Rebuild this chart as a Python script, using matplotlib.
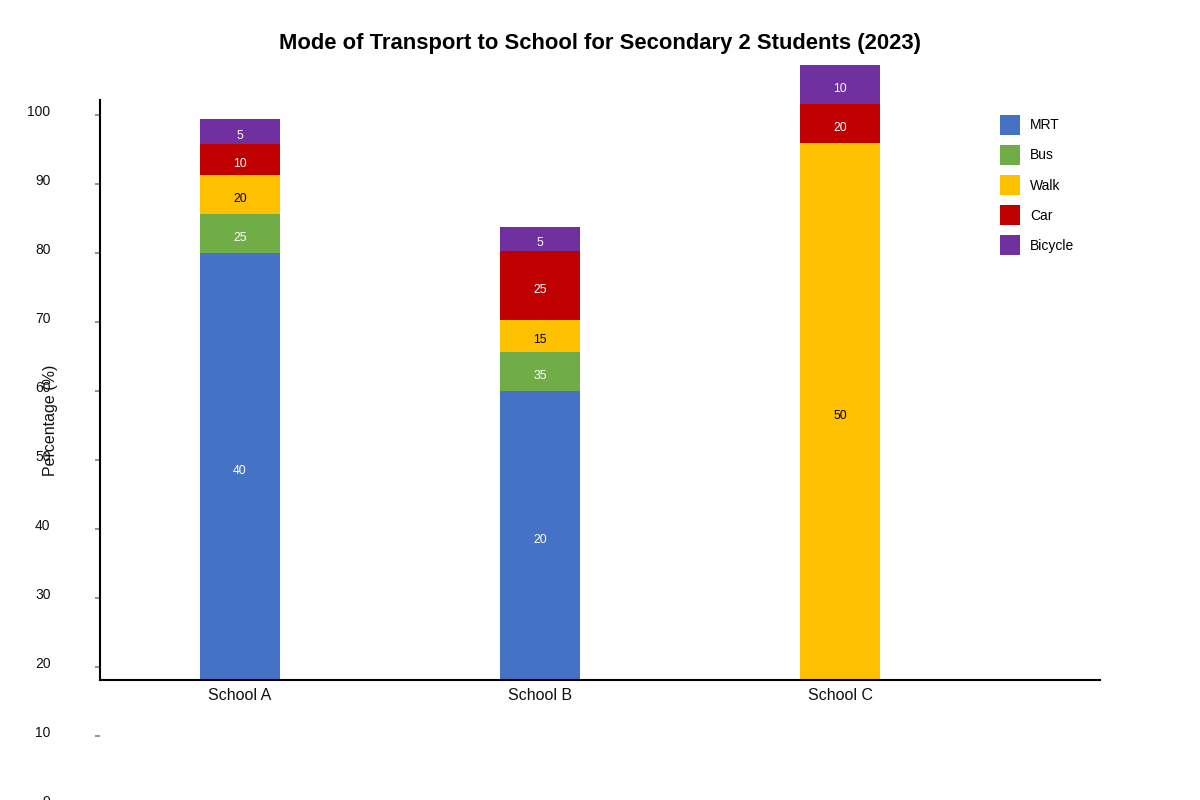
import matplotlib.pyplot as plt
from matplotlib.transforms import ScaledTranslation

plt.rcParams['font.family'] = ['Liberation Sans', 'DejaVu Sans']

schools = ['School A', 'School B', 'School C']
modes = ['MRT', 'Bus', 'Walk', 'Car', 'Bicycle']
colors = ['#4472C4', '#70AD47', '#FFC000', '#C00000', '#7030A0']
text_colors = ['white', 'white', 'black', 'white', 'white']

# percentages printed on the segments
mrt = [40, 20, 0]
bus = [25, 35, 0]
walk = [20, 15, 50]
car = [10, 25, 20]
bicycle = [5, 5, 10]

# segment heights as they are drawn in the original, read in units of its y axis
# (the original does not stack the segments in proportion to the percentages)
base = 18.07
mrt_h = [61.9, 41.9, 0]
bus_h = [5.65, 5.65, 0]
walk_h = [5.6, 4.65, 77.85]
car_h = [4.6, 10.0, 5.65]
bicycle_h = [3.5, 3.5, 5.65]

values = [mrt, bus, walk, car, bicycle]
heights = [mrt_h, bus_h, walk_h, car_h, bicycle_h]

fig = plt.figure(figsize=(12, 8), dpi=100)
ax = fig.add_axes([0, -20 / 800, 1, 820 / 800])

# pixel layout of the original
px_unit = 6.9
zero_px = 804.7
ax.set_xlim(-240 / 300, 960 / 300)
ax.set_ylim((zero_px - 820) / px_unit, zero_px / px_unit)

x = list(range(len(schools)))
bottoms = [base] * len(schools)

for mode, vals, hs, col, tcol in zip(modes, values, heights, colors, text_colors):
    bars = ax.bar(x, hs, bottom=bottoms, width=80 / 300, color=col, label=mode, linewidth=0)
    labels = [str(v) if v > 0 else '' for v in vals]
    anns = ax.bar_label(bars, labels=labels, label_type='center', color=tcol, fontsize=8.8)
    for a in anns:
        a.xyann = (0, -3.0)
    bottoms = [b + h for b, h in zip(bottoms, hs)]

# axes lines
for side in ['top', 'right']:
    ax.spines[side].set_visible(False)
ax.spines['left'].set_position(('data', -140 / 300))
ax.spines['left'].set_bounds(base, (zero_px - 100) / px_unit)
ax.spines['bottom'].set_position(('data', base))
ax.spines['bottom'].set_bounds(-140 / 300, 860 / 300)
for side in ['left', 'bottom']:
    ax.spines[side].set_linewidth(1.5)
    ax.spines[side].set_color('black')

# y ticks
ax.set_yticks(range(0, 101, 10))
ax.tick_params(axis='y', direction='out', length=3.6, width=1.1, color='#777777',
               pad=32, labelsize=10, labelcolor='#111111')
for lab in ax.get_yticklabels():
    lab.set_transform(lab.get_transform() + ScaledTranslation(0, 4 / 100, fig.dpi_scale_trans))

# x ticks
ax.set_xticks(x)
ax.set_xticklabels(schools)
ax.tick_params(axis='x', length=0, pad=6, labelsize=11.5, labelcolor='#111111')

# y label
ax.set_ylabel('Percentage (%)', fontsize=11.5, color='#111111')
ax.yaxis.label.set_va('center')
ax.yaxis.set_label_coords(50 / 1200, (820 - 420) / 820)

# title
fig.suptitle('Mode of Transport to School for Secondary 2 Students (2023)',
             x=0.5, y=1 - 43.5 / 800, va='center', fontsize=15.8, fontweight='bold')

# legend
ax.legend(loc='upper left', bbox_to_anchor=(1000 / 1200, 1 - 115 / 800),
          bbox_transform=fig.transFigure, frameon=False, fontsize=10,
          handlelength=1.44, handleheight=1.84, handletextpad=0.72,
          labelspacing=0.72, borderpad=0, borderaxespad=0)

plt.savefig('out.png', dpi=100)
